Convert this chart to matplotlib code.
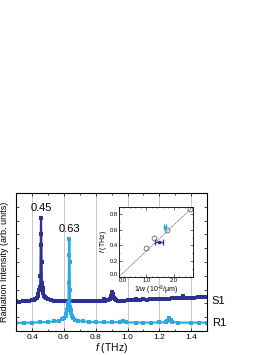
import matplotlib
matplotlib.use("Agg")
import matplotlib.pyplot as plt
from matplotlib.ticker import MultipleLocator

plt.rcParams['font.family'] = ['Liberation Sans', 'DejaVu Sans']
plt.rcParams['mathtext.fontset'] = 'custom'
plt.rcParams['mathtext.rm'] = 'Liberation Sans'
plt.rcParams['mathtext.it'] = 'Liberation Sans:italic'

# ---------------------------
# data
# ---------------------------
s1_f = [0.30, 0.32, 0.34, 0.36, 0.38, 0.40, 0.41, 0.42, 0.43, 0.435, 0.44, 0.445,
        0.448, 0.450, 0.452, 0.454, 0.456, 0.458, 0.460, 0.462, 0.464, 0.466, 0.468,
        0.47, 0.475, 0.48, 0.49, 0.50, 0.52, 0.54, 0.56, 0.58, 0.60, 0.62, 0.64, 0.66,
        0.68, 0.70, 0.72, 0.74, 0.76, 0.78, 0.80, 0.82, 0.84, 0.85, 0.86, 0.88, 0.89,
        0.895, 0.90, 0.905, 0.91, 0.915, 0.92, 0.93, 0.94, 0.96, 0.98, 1.00, 1.02,
        1.04, 1.05, 1.06, 1.08, 1.10, 1.12, 1.14, 1.16, 1.18, 1.20, 1.22, 1.24, 1.26,
        1.28, 1.30, 1.32, 1.34, 1.35, 1.36, 1.38, 1.40, 1.42, 1.44, 1.46, 1.48, 1.50]
s1_int = [0.215, 0.213, 0.215, 0.217, 0.220, 0.222, 0.226, 0.232, 0.242, 0.250, 0.265,
          0.295, 0.315, 0.320, 0.400, 0.620, 0.820, 0.700, 0.500, 0.350, 0.320, 0.310,
          0.290, 0.275, 0.255, 0.245, 0.235, 0.228, 0.222, 0.220, 0.218, 0.216, 0.214,
          0.214, 0.215, 0.214, 0.215, 0.216, 0.215, 0.217, 0.216, 0.215, 0.216, 0.218,
          0.220, 0.230, 0.220, 0.222, 0.232, 0.250, 0.270, 0.280, 0.265, 0.240, 0.228,
          0.222, 0.220, 0.218, 0.220, 0.222, 0.222, 0.224, 0.230, 0.224, 0.226, 0.232,
          0.226, 0.228, 0.230, 0.230, 0.232, 0.232, 0.234, 0.232, 0.236, 0.236, 0.238,
          0.240, 0.250, 0.240, 0.240, 0.242, 0.240, 0.244, 0.244, 0.246, 0.248]

r1_f = [0.30, 0.35, 0.40, 0.45, 0.50, 0.54, 0.57, 0.59, 0.60, 0.61, 0.615, 0.62,
        0.624, 0.626, 0.628, 0.630, 0.632, 0.634, 0.636, 0.638, 0.640, 0.642, 0.645,
        0.65, 0.66, 0.67, 0.69, 0.72, 0.76, 0.80, 0.85, 0.90, 0.95, 0.97, 0.99, 1.05,
        1.10, 1.15, 1.20, 1.24, 1.25, 1.26, 1.27, 1.28, 1.32, 1.40, 1.45, 1.50]
r1_int = [0.058, 0.058, 0.060, 0.062, 0.065, 0.068, 0.075, 0.085, 0.095, 0.110, 0.125,
          0.150, 0.170, 0.175, 0.200, 0.350, 0.550, 0.670, 0.500, 0.300, 0.170, 0.150,
          0.130, 0.110, 0.090, 0.080, 0.072, 0.068, 0.065, 0.063, 0.062, 0.062, 0.063,
          0.068, 0.062, 0.060, 0.060, 0.060, 0.061, 0.063, 0.075, 0.095, 0.080, 0.065,
          0.060, 0.060, 0.060, 0.060]

# inset: resonance frequency vs 1/w
inv_w = [0.98, 1.27, 1.75, 2.59]
f_res = [0.37, 0.50, 0.60, 0.86]
s1_pt = (1.45, 0.45, 0.15)   # x, y, xerr
r1_pt = (1.68, 0.64, 0.05)
fit_slope = 0.33

navy = '#2e3192'
cyan = '#29abe2'

# ---------------------------
# main plot
# ---------------------------
fig = plt.figure(figsize=(2.74, 3.55), dpi=100)
ax = fig.add_axes([0.059, 0.068, 0.697, 0.388])

for xg in [0.4, 0.6, 0.8, 1.0, 1.2, 1.4]:
    ax.axvline(xg, color='#c8c8c8', lw=0.7, zorder=0)

ax.plot(s1_f, s1_int, color=navy, lw=1.5, marker='s', ms=2.2, mew=0)
ax.plot(r1_f, r1_int, color=cyan, lw=1.5, marker='s', ms=2.2, mew=0)

ax.text(0.455, 0.855, '0.45', fontsize=8, ha='center', va='bottom')
ax.text(0.635, 0.705, '0.63', fontsize=8, ha='center', va='bottom')
ax.text(1.53, 0.22, 'S1', fontsize=8, va='center', clip_on=False)
ax.text(1.53, 0.058, 'R1', fontsize=8, va='center', clip_on=False)

ax.set_xlim(0.3, 1.5)
ax.set_ylim(0, 1)
ax.xaxis.set_major_locator(MultipleLocator(0.2))
ax.xaxis.set_minor_locator(MultipleLocator(0.1))
ax.yaxis.set_major_locator(MultipleLocator(0.1))
ax.set_yticklabels([])
ax.tick_params(direction='in', length=2.5, width=0.5, labelsize=6, pad=2,
               top=True, right=True)
ax.tick_params(which='minor', direction='in', length=1.5, width=0.5, top=True)
for sp in ax.spines.values():
    sp.set_linewidth(0.8)
ax.set_xlabel('$f$ (THz)', fontsize=7.5, labelpad=0)
ax.set_ylabel('Radiation Intensity (arb. units)', fontsize=6.5, labelpad=3)

# ---------------------------
# inset
# ---------------------------
ins = fig.add_axes([0.434, 0.22, 0.27, 0.197])
ins.plot([0, 2.7], [0, 2.7 * fit_slope], color='#555555', lw=0.5, ls=(0, (2, 1)))
ins.plot(inv_w, f_res, 'o', mfc='none', mec='#666666', ms=3.5, mew=0.6)
ins.errorbar(s1_pt[0], s1_pt[1], xerr=s1_pt[2], fmt='s', color=navy, ms=1.5,
             capsize=2, elinewidth=0.9, capthick=0.9)
ins.errorbar(r1_pt[0], r1_pt[1], xerr=r1_pt[2], fmt='s', color=cyan, ms=1.5,
             capsize=2, elinewidth=0.9, capthick=0.9)
ins.set_xlim(0, 2.7)
ins.set_ylim(0, 0.89)
ins.set_xticks([0, 1, 2])
ins.set_xticklabels(['0.0', '1.0', '2.0'])
ins.get_xticklabels()[0].set_horizontalalignment('left')
ins.set_yticks([0, 0.2, 0.4, 0.6, 0.8])
ins.set_yticklabels(['0.0', '0.2', '0.4', '0.6', '0.8'])
ins.get_yticklabels()[0].set_verticalalignment('bottom')
ins.xaxis.set_minor_locator(MultipleLocator(0.2))
ins.yaxis.set_minor_locator(MultipleLocator(0.1))
ins.tick_params(which='both', direction='in', labelsize=4.2, pad=1,
                top=True, right=True, width=0.4)
ins.tick_params(which='major', length=2)
ins.tick_params(which='minor', length=1)
for sp in ins.spines.values():
    sp.set_linewidth(0.6)
ins.set_xlabel('1/$w$ (10$^{-3}$/μm)', fontsize=5, labelpad=0.5)
ins.set_ylabel('$f$ (THz)', fontsize=5, labelpad=0.5)

fig.savefig('out.png', dpi=100)
